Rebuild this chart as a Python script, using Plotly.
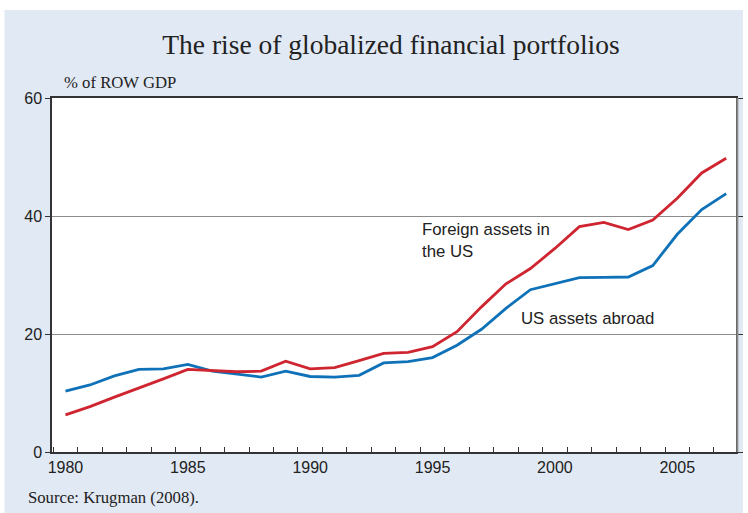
import plotly.graph_objects as go

years = list(range(1980, 2008))
foreign_assets_in_us = [6.3, 7.7, 9.3, 10.8, 12.4, 14.0, 13.8, 13.6, 13.7, 15.4, 14.1, 14.3,
                        15.5, 16.7, 16.9, 17.85, 20.4, 24.6, 28.5, 31.1, 34.5, 38.2, 38.9,
                        37.7, 39.3, 43.0, 47.3, 49.8]
us_assets_abroad = [10.3, 11.36, 12.9, 14.0, 14.1, 14.85, 13.7, 13.2, 12.7, 13.7, 12.8, 12.7,
                    13.0, 15.1, 15.3, 16.0, 18.1, 20.8, 24.35, 27.5, 28.5, 29.55, 29.6,
                    29.66, 31.6, 36.9, 41.1, 43.8]
x_tick_vals = [1980, 1985, 1990, 1995, 2000, 2005]
x_tick_text = ["1980", "1985", "1990", "1995", "2000", "2005"]
y_tick_vals = [0, 20, 40, 60]
y_tick_text = ["0", "20", "40", "60"]

RED = "#cf2530"
BLUE = "#0f72b8"
PANEL = "#e1e9f4"
SERIF = "Liberation Serif, Times New Roman, serif"
SANS = "Liberation Sans, Arial, sans-serif"

fig = go.Figure()
fig.add_trace(go.Scatter(x=years, y=us_assets_abroad, mode="lines",
                         line=dict(color=BLUE, width=2.8), name="US assets abroad",
                         hoverinfo="skip"))
fig.add_trace(go.Scatter(x=years, y=foreign_assets_in_us, mode="lines",
                         line=dict(color=RED, width=2.8), name="Foreign assets in the US",
                         hoverinfo="skip"))

L, R, T, B = 52, 5, 98, 61
W, H = 748, 513
pw, ph = W - L - R, H - T - B

def px_x(p):
    return (p - L) / pw

def px_y(p):
    return (H - B - p) / ph

fig.update_layout(
    width=W, height=H,
    margin=dict(l=L, r=R, t=T, b=B, pad=0),
    paper_bgcolor="white",
    plot_bgcolor="white",
    showlegend=False,
    title=dict(text="The rise of globalized financial portfolios",
               font=dict(family=SERIF, size=27.5, color="#222222"),
               x=391 / W, xanchor="center", y=1 - 44 / H, yanchor="middle"),
    shapes=[
        dict(type="rect", xref="paper", yref="paper", layer="below",
             x0=px_x(4), x1=px_x(W + 2), y0=px_y(H + 2), y1=px_y(10),
             fillcolor=PANEL, line=dict(width=0)),
        dict(type="rect", xref="paper", yref="paper", layer="below",
             x0=0, x1=1, y0=0, y1=1, fillcolor="white", line=dict(width=0)),
        dict(type="line", xref="paper", yref="paper", layer="above",
             x0=1.002, x1=1.002, y0=0, y1=1, line=dict(color="#8a8a8a", width=2)),
    ],
    annotations=[
        dict(text="% of ROW GDP", xref="paper", yref="paper", x=px_x(62), y=px_y(83),
             xanchor="left", yanchor="middle", showarrow=False,
             font=dict(family=SERIF, size=16.7, color="#222222")),
        dict(text="Source: Krugman (2008).", xref="paper", yref="paper", x=px_x(26), y=px_y(497),
             xanchor="left", yanchor="middle", showarrow=False,
             font=dict(family=SERIF, size=16.7, color="#222222")),
        dict(text="Foreign assets in<br>the US", xref="x", yref="y", x=1994.5, y=39.6,
             xanchor="left", yanchor="top", align="left", showarrow=False,
             font=dict(family=SANS, size=16.8, color="#222222")),
        dict(text="US assets abroad", xref="x", yref="y", x=1998.55, y=22.7,
             xanchor="left", yanchor="middle", showarrow=False,
             font=dict(family=SANS, size=16.8, color="#222222")),
    ],
)

fig.update_xaxes(
    range=[1979.45, 2007.4],
    tickmode="array", tickvals=x_tick_vals, ticktext=x_tick_text,
    ticks="", showgrid=False, zeroline=False,
    showline=True, linecolor="#333333", linewidth=1.5, mirror=True,
    tickfont=dict(family=SANS, size=16, color="#222222"),
    minor=dict(tick0=1980.5, dtick=1, ticks="inside", ticklen=5,
               tickcolor="#333333", tickwidth=1, showgrid=False),
)
fig.update_yaxes(
    range=[0, 60],
    tickmode="array", tickvals=y_tick_vals, ticktext=y_tick_text,
    ticks="outside", ticklen=5, tickcolor="#333333", tickwidth=1,
    showgrid=True, gridcolor="#8c8c8c", gridwidth=1, zeroline=False,
    showline=True, linecolor="#333333", linewidth=1.5, mirror="ticks",
    tickfont=dict(family=SANS, size=16, color="#222222"),
)

fig.write_html("out.html", config={"displayModeBar": False},
               post_script="document.body.style.margin='0';document.body.style.overflow='hidden';")
